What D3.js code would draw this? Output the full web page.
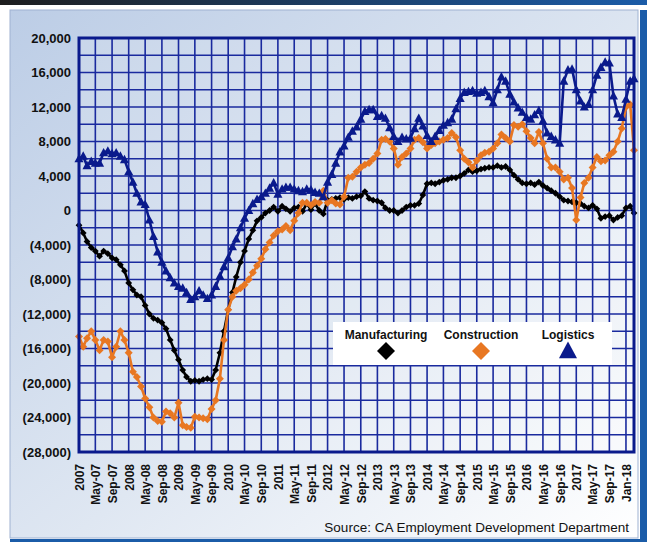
<!DOCTYPE html>
<html>
<head>
<meta charset="utf-8">
<script src="https://cdn.jsdelivr.net/npm/d3@7"></script>
<style>
  body { margin: 0; background: #fff; }
  svg { display: block; font-family: "Liberation Sans", Arial, sans-serif; }
</style>
</head>
<body>
<div id="grafico"></div>
<script>
// monthly change, Jan 2007 .. Mar 2018
const startDate = new Date(2007, 0, 1);
const endDate = new Date(2018, 2, 1);

const manufacturing = [
  -1700, -2600, -3600, -4300, -4700, -5300, -4700, -5000, -5500, -5700,
  -6300, -7000, -8400, -9200, -9800, -10000, -11000, -12000, -12500, -12700,
  -13000, -13700, -15000, -16200, -17300, -18500, -19300, -19800, -19700, -19800,
  -19600, -19500, -19600, -18500, -16500, -14000, -11500, -9500, -7700, -6000,
  -4700, -3300, -2300, -1200, -800, -300, 0, 400, -100, 500,
  200, -100, 300, 400, -100, 800, 100, 800, 0, -400,
  1200, 1300, 1400, 1500, 1300, 1500, 1400, 1600, 1700, 2200,
  1400, 1200, 1100, 900, 300, 0, 0, -300, 0, 400,
  600, 600, 800, 1800, 3100, 3200, 3100, 3300, 3500, 3600,
  3800, 3800, 4000, 4300, 4700, 4500, 4600, 4800, 4900, 5000,
  5000, 5200, 5000, 5100, 4700, 4100, 3600, 3200, 3100, 3200,
  3000, 3300, 2900, 2600, 2300, 2000, 1600, 1200, 1100, 1000,
  900, 800, 500, 300, 600, 200, -900, -700, -600, -1100,
  -800, -600, 300, 500, -300
];

const construction = [
  -14600, -15800, -14800, -14000, -15000, -16200, -15000, -15200, -17000, -15800,
  -14000, -15000, -16500, -18700, -19300, -20400, -21800, -22800, -24000, -24400,
  -24500, -23300, -23500, -24000, -22300, -24900, -25100, -25200, -23900, -24000,
  -24100, -24200, -23000, -22000, -19500, -15000, -11500, -10000, -9300, -9000,
  -8600, -8000, -7200, -6400, -5600, -4500, -3700, -2900, -2400, -2200,
  -1800, -2300, -1200, -300, 900, 900, 600, 1000, 900, 2300,
  900, 1200, 800, 700, 1600, 3800, 3900, 4500, 5000, 5300,
  5500, 6000, 6600, 8200, 8300, 8000, 7200, 5300, 6200, 6600,
  7200, 8200, 8400, 7900, 7200, 7600, 7800, 8000, 8200, 8400,
  9000, 8500, 7000, 6000, 5600, 5000, 5800, 6400, 6700, 6800,
  7200, 7800, 8800, 8400, 8000, 9900, 9700, 10000, 9200, 8400,
  7800, 9100, 7800, 6000, 5000, 5000, 4500, 3600, 3800, 2600,
  -1100, 1500, 3200, 3800, 5000, 6200, 5700, 5800, 6400, 6800,
  8000, 9500, 12000, 12300, 7000
];

const logistics = [
  6000, 6300, 5200, 5700, 5500, 5500, 6700, 6900, 6600, 6700,
  6300, 5900, 4500, 3300, 2000, 1000, 700, -1100, -3000, -4800,
  -6000, -7000, -7800, -8400, -8800, -9000, -9500, -10300, -10000, -9300,
  -9800, -10200, -9800, -8800, -7600, -6500, -5500, -4200, -3300, -2000,
  -900, 0, 800, 1300, 1600, 2000, 2600, 3200, 1900, 2500,
  2700, 2700, 2500, 2300, 2200, 2500, 2400, 2100, 2000, 1600,
  3300, 4200, 5500, 6800, 7500, 8500, 9200, 9700, 10600, 11500,
  11700, 11700, 10900, 11000, 10700, 9600, 8600, 8000, 8500, 8300,
  8400, 9500, 10700, 9800, 8700, 8000, 8600, 9300, 9900, 10200,
  10600, 11800, 13000, 13700, 13800, 13900, 13600, 13700, 13900, 13200,
  12500, 14000, 15500, 15000, 13500, 12600, 11900, 11400, 10800, 10600,
  11100, 11600, 10400, 9000, 8600, 8200, 7800, 15000, 16300, 16400,
  14000, 12700, 12000, 12300, 14000, 15700, 16600, 17200, 17100, 13300,
  11200, 10800, 12900, 15000, 15300
];

const xTickLabels = [
  "2007", "May-07", "Sep-07", "2008", "May-08", "Sep-08", "2009", "May-09", "Sep-09",
  "2010", "May-10", "Sep-10", "2011", "May-11", "Sep-11", "2012", "May-12", "Sep-12",
  "2013", "May-13", "Sep-13", "2014", "May-14", "Sep-14", "2015", "May-15", "Sep-15",
  "2016", "May-16", "Sep-16", "2017", "May-17", "Sep-17", "Jan-18"
];
const yTickValues = [20000, 16000, 12000, 8000, 4000, 0, -4000, -8000, -12000, -16000, -20000, -24000, -28000];

const seriesNames = ["Manufacturing", "Construction", "Logistics"];
const seriesColors = ["#000000", "#e87722", "#0a1a8c"];

const W = 647, H = 542;
const margin = { top: 38, right: 13, bottom: 90, left: 79 };
const width = W - margin.left - margin.right;
const height = H - margin.top - margin.bottom;

const svg = d3.select("#grafico")
  .append("svg")
  .attr("width", W)
  .attr("height", H);

const defs = svg.append("defs");
const panelGrad = defs.append("linearGradient")
  .attr("id", "panelGrad")
  .attr("x1", 0).attr("y1", 0).attr("x2", 1).attr("y2", 1);
panelGrad.append("stop").attr("offset", 0).attr("stop-color", "#bccde6");
panelGrad.append("stop").attr("offset", 0.55).attr("stop-color", "#dfe7f2");
panelGrad.append("stop").attr("offset", 1).attr("stop-color", "#ffffff");

const topGrad = defs.append("linearGradient")
  .attr("id", "topGrad")
  .attr("x1", 0).attr("y1", 0).attr("x2", 1).attr("y2", 0);
topGrad.append("stop").attr("offset", 0).attr("stop-color", "#1e1e1e");
topGrad.append("stop").attr("offset", 1).attr("stop-color", "#1b5ca8");

// frame
svg.append("rect").attr("x", 0).attr("y", 0).attr("width", W).attr("height", 5).attr("fill", "url(#topGrad)");
svg.append("rect").attr("x", 10).attr("y", 10).attr("width", 628).attr("height", 528)
  .attr("fill", "url(#panelGrad)").attr("stroke", "#9fb2d2").attr("stroke-width", 1);
svg.append("rect").attr("x", 640).attr("y", 10).attr("width", 7).attr("height", 532).attr("fill", "#1b5ca8");
svg.append("rect").attr("x", 10).attr("y", 539).attr("width", 637).attr("height", 3).attr("fill", "#1b5ca8");

const g = svg.append("g")
  .attr("transform", `translate(${margin.left}, ${margin.top})`);

const dates = manufacturing.map((d, i) => d3.timeMonth.offset(startDate, i));

const x = d3.scaleTime()
  .domain([startDate, endDate])
  .range([0, width]);

const y = d3.scaleLinear()
  .domain([-28000, 20000])
  .range([height, 0]);

const tickDates = xTickLabels.map((d, i) => d3.timeMonth.offset(startDate, i * 4));

// grid
g.append("rect").attr("width", width).attr("height", height).attr("fill", "#ffffff").attr("fill-opacity", 0.12);

g.append("g")
  .selectAll("line")
  .data(d3.range(-28000, 20001, 2000))
  .enter()
  .append("line")
  .attr("x1", 0).attr("x2", width)
  .attr("y1", d => y(d)).attr("y2", d => y(d))
  .attr("stroke", "#1a2a9e").attr("stroke-width", 1.6);

g.append("g")
  .selectAll("line")
  .data(tickDates)
  .enter()
  .append("line")
  .attr("x1", d => x(d)).attr("x2", d => x(d))
  .attr("y1", 0).attr("y2", height)
  .attr("stroke", "#1a2a9e").attr("stroke-width", 1.6);

// axes
const fmt = d3.format(",");
const yAxis = g.append("g")
  .call(d3.axisLeft(y)
    .tickValues(yTickValues)
    .tickFormat(d => d < 0 ? `(${fmt(-d)})` : fmt(d))
    .tickSize(0)
    .tickPadding(8));
yAxis.select(".domain").remove();
yAxis.selectAll("text")
  .attr("font-family", "'Liberation Sans', Arial, sans-serif")
  .attr("font-size", "13px")
  .attr("font-weight", "bold")
  .attr("fill", "#111");

const xAxis = g.append("g")
  .attr("transform", `translate(0, ${height})`)
  .call(d3.axisBottom(x)
    .tickValues(tickDates)
    .tickFormat((d, i) => xTickLabels[i])
    .tickSize(0));
xAxis.select(".domain").remove();
xAxis.selectAll("text")
  .attr("transform", "rotate(-90)")
  .attr("text-anchor", "end")
  .attr("x", -12)
  .attr("y", 0)
  .attr("dy", "0.36em")
  .attr("font-family", "'Liberation Sans', Arial, sans-serif")
  .attr("font-size", "12px")
  .attr("font-weight", "bold")
  .attr("fill", "#111");

// lines + markers
const diamond = r => `M0,${-r}L${r},0L0,${r}L${-r},0Z`;
const triangle = r => `M0,${-r}L${r * 0.95},${r * 0.75}L${-r * 0.95},${r * 0.75}Z`;

const series = [
  { name: "Manufacturing", values: manufacturing, color: seriesColors[0], shape: diamond(3.4) },
  { name: "Construction", values: construction, color: seriesColors[1], shape: diamond(4) },
  { name: "Logistics", values: logistics, color: seriesColors[2], shape: triangle(4.8) }
];

const line = d3.line()
  .x((d, i) => x(dates[i]))
  .y(d => y(d));

series.forEach(s => {
  g.append("path")
    .datum(s.values)
    .attr("fill", "none")
    .attr("stroke", s.color)
    .attr("stroke-width", 2.6)
    .attr("stroke-linejoin", "round")
    .attr("d", line);

  g.append("g")
    .selectAll("path")
    .data(s.values)
    .enter()
    .append("path")
    .attr("d", s.shape)
    .attr("transform", (d, i) => `translate(${x(dates[i])}, ${y(d)})`)
    .attr("fill", s.color);
});

// plot border
g.append("rect")
  .attr("width", width).attr("height", height)
  .attr("fill", "none")
  .attr("stroke", "#0a1a8c").attr("stroke-width", 3);

// legend
const legend = svg.append("g");
legend.append("rect")
  .attr("x", 333).attr("y", 322).attr("width", 279).attr("height", 43)
  .attr("fill", "#ffffff");

const legendX = [386, 481, 568];
const legendShapes = [diamond(9), diamond(9), triangle(9.5)];
seriesNames.forEach((n, i) => {
  legend.append("text")
    .attr("x", legendX[i]).attr("y", 339)
    .attr("text-anchor", "middle")
    .attr("font-size", "12px")
    .attr("font-weight", "bold")
    .attr("fill", "#111")
    .text(n);
  legend.append("path")
    .attr("d", legendShapes[i])
    .attr("transform", `translate(${legendX[i]}, 351)`)
    .attr("fill", seriesColors[i]);
});

svg.append("text")
  .attr("x", 629).attr("y", 532)
  .attr("text-anchor", "end")
  .attr("font-size", "13.5px")
  .attr("fill", "#111")
  .text("Source: CA Employment Development Department");
</script>
</body>
</html>
